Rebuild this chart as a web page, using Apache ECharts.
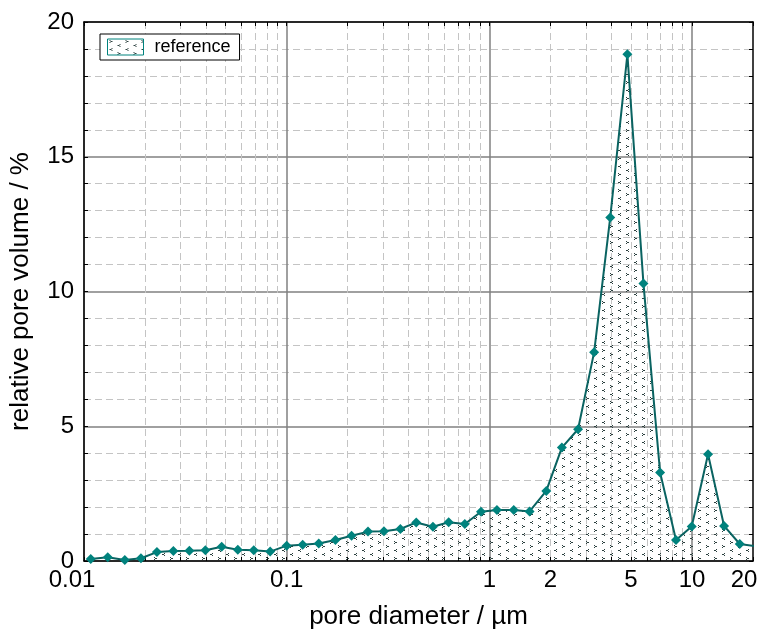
<!DOCTYPE html>
<html>
<head>
<meta charset="utf-8">
<script src="https://cdn.jsdelivr.net/npm/echarts@6/dist/echarts.min.js"></script>
<style>
  html, body { margin: 0; padding: 0; background: #fff; }
  #chart { width: 770px; height: 635px; }
</style>
</head>
<body>
<div id="chart"></div>
<script>
// Pore size distribution (log-scaled diameter)
const diameters = [0.0108, 0.0131, 0.0159, 0.0191, 0.0229, 0.0276, 0.0331, 0.0397, 0.0478, 0.0574,
  0.0688, 0.0829, 0.100, 0.120, 0.144, 0.174, 0.209, 0.252, 0.302, 0.364,
  0.436, 0.527, 0.630, 0.757, 0.910, 1.09, 1.32, 1.58, 1.91, 2.28,
  2.74, 3.29, 3.95, 4.80, 5.76, 6.96, 8.34, 9.97, 12.0, 14.4,
  17.2, 20.7];
const volume = [0.07, 0.14, 0.04, 0.10, 0.33, 0.37, 0.38, 0.40, 0.53, 0.42,
  0.40, 0.35, 0.57, 0.60, 0.65, 0.78, 0.94, 1.09, 1.10, 1.19,
  1.43, 1.27, 1.44, 1.37, 1.83, 1.89, 1.89, 1.84, 2.60, 4.21,
  4.89, 7.75, 12.75, 18.8, 10.3, 3.28, 0.78, 1.28, 3.96, 1.30,
  0.63, 0.55];

const xLabelValues = [0.01, 0.1, 1, 2, 5, 10, 20];
const xMajorValues = [0.01, 0.1, 1, 10];
const xMinorValues = [0.02, 0.03, 0.04, 0.05, 0.06, 0.07, 0.08, 0.09,
  0.2, 0.3, 0.4, 0.5, 0.6, 0.7, 0.8, 0.9,
  2, 3, 4, 5, 6, 7, 8, 9];
const yTickLabels = [0, 5, 10, 15, 20];
const seriesName = 'reference';

const FONT = "'Liberation Sans', Arial, sans-serif";
const LINE_COLOR = '#0a6361';
const MARK_COLOR = '#00827d';

// Chevron hatch ("<" and ">" glyphs) used to fill the area under the curve
function makeChevronPattern() {
  const c = document.createElement('canvas');
  c.width = 16; c.height = 16;
  const g = c.getContext('2d');
  g.fillStyle = '#2c403f';
  function chev(x, y, right) {
    const px = right ? [[0, 0], [1, 1], [2, 1], [0, 2]] : [[2, 0], [1, 1], [0, 1], [2, 2]];
    px.forEach(p => g.fillRect(x + p[0], y + p[1], 1, 1));
  }
  chev(2, 1, true);
  chev(10, 5, false);
  chev(2, 9, false);
  chev(10, 13, true);
  return c;
}
const hatch = { image: makeChevronPattern(), repeat: 'repeat' };

const allTicks = xMajorValues.concat(xMinorValues, [20]);
const frameLine = { show: true, lineStyle: { color: '#000', width: 1.5 } };
const innerTick = { show: true, inside: true, length: 4, lineStyle: { color: '#000', width: 1 } };

const logBase = { type: 'log', logBase: 10, min: 0.01, max: 20, gridIndex: 0 };

const chart = echarts.init(document.getElementById('chart'), null, { renderer: 'canvas' });
chart.setOption({
  animation: false,
  backgroundColor: '#fff',
  textStyle: { fontFamily: FONT },
  grid: { left: 83, right: 17, top: 22, bottom: 73, containLabel: false },
  legend: {
    left: 100, top: 34,
    padding: [4, 9, 4, 7],
    borderColor: '#000', borderWidth: 1, borderRadius: 0,
    backgroundColor: '#fff',
    itemWidth: 36, itemHeight: 16,
    icon: 'rect',
    itemStyle: { color: hatch, borderColor: MARK_COLOR, borderWidth: 1 },
    textStyle: { fontFamily: FONT, fontSize: 18, color: '#000', padding: [0, 0, 0, 6] },
    data: [seriesName]
  },
  xAxis: [
    Object.assign({}, logBase, {
      position: 'bottom',
      name: 'pore diameter / µm', nameLocation: 'middle', nameGap: 43,
      nameTextStyle: { fontFamily: FONT, fontSize: 26, color: '#000' },
      axisLine: frameLine,
      axisTick: Object.assign({}, innerTick, { customValues: allTicks }),
      axisLabel: {
        customValues: xLabelValues, margin: 7,
        fontFamily: FONT, fontSize: 24, color: '#000',
        formatter: function (v) {
          const s = String(+(+v).toPrecision(6));
          if (s === '0.01') return '{first|' + s + '}';
          if (s === '20') return '{last|' + s + '}';
          return s;
        },
        rich: {
          first: { fontFamily: FONT, fontSize: 24, color: '#000', padding: [0, 24, 0, 0] },
          last: { fontFamily: FONT, fontSize: 24, color: '#000', padding: [0, 18, 0, 0] }
        }
      },
      splitLine: { show: false }
    }),
    Object.assign({}, logBase, {
      position: 'bottom',
      axisLine: { show: false }, axisLabel: { show: false },
      axisTick: { show: false, customValues: xMinorValues },
      splitLine: { show: true, lineStyle: { color: '#c4c4c4', width: 1, type: [7, 4] } }
    }),
    Object.assign({}, logBase, {
      position: 'bottom',
      axisLine: { show: false }, axisLabel: { show: false },
      axisTick: { show: false, customValues: xMajorValues },
      splitLine: { show: true, lineStyle: { color: '#808080', width: 1.5 } }
    }),
    Object.assign({}, logBase, {
      position: 'top',
      axisLine: frameLine,
      axisTick: Object.assign({}, innerTick, { customValues: allTicks }),
      axisLabel: { show: false },
      splitLine: { show: false }
    })
  ],
  yAxis: [
    {
      type: 'value', min: 0, max: 20, interval: 5, position: 'left',
      name: 'relative pore volume / %', nameLocation: 'middle', nameGap: 50,
      nameTextStyle: { fontFamily: FONT, fontSize: 26, color: '#000' },
      axisLine: frameLine,
      axisTick: innerTick,
      minorTick: { show: true, splitNumber: 5, length: 4, lineStyle: { color: '#000', width: 1 } },
      axisLabel: {
        margin: 10, fontFamily: FONT, fontSize: 24, color: '#000',
        customValues: yTickLabels
      },
      splitLine: { show: true, lineStyle: { color: '#808080', width: 1.5 } },
      minorSplitLine: { show: true, lineStyle: { color: '#c4c4c4', width: 1, type: [7, 4] } }
    },
    {
      type: 'value', min: 0, max: 20, interval: 5, position: 'right',
      axisLine: frameLine,
      axisTick: innerTick,
      minorTick: { show: true, splitNumber: 5, length: 4, lineStyle: { color: '#000', width: 1 } },
      axisLabel: { show: false },
      splitLine: { show: false }
    }
  ],
  series: [{
    name: seriesName,
    type: 'line',
    xAxisIndex: 0, yAxisIndex: 0,
    data: diameters.map((d, i) => [d, volume[i]]),
    clip: true,
    symbol: 'diamond',
    symbolSize: 10,
    itemStyle: { color: MARK_COLOR },
    lineStyle: { color: LINE_COLOR, width: 2 },
    areaStyle: { color: hatch, opacity: 1, origin: 'start' },
    z: 5
  }]
});
</script>
</body>
</html>
